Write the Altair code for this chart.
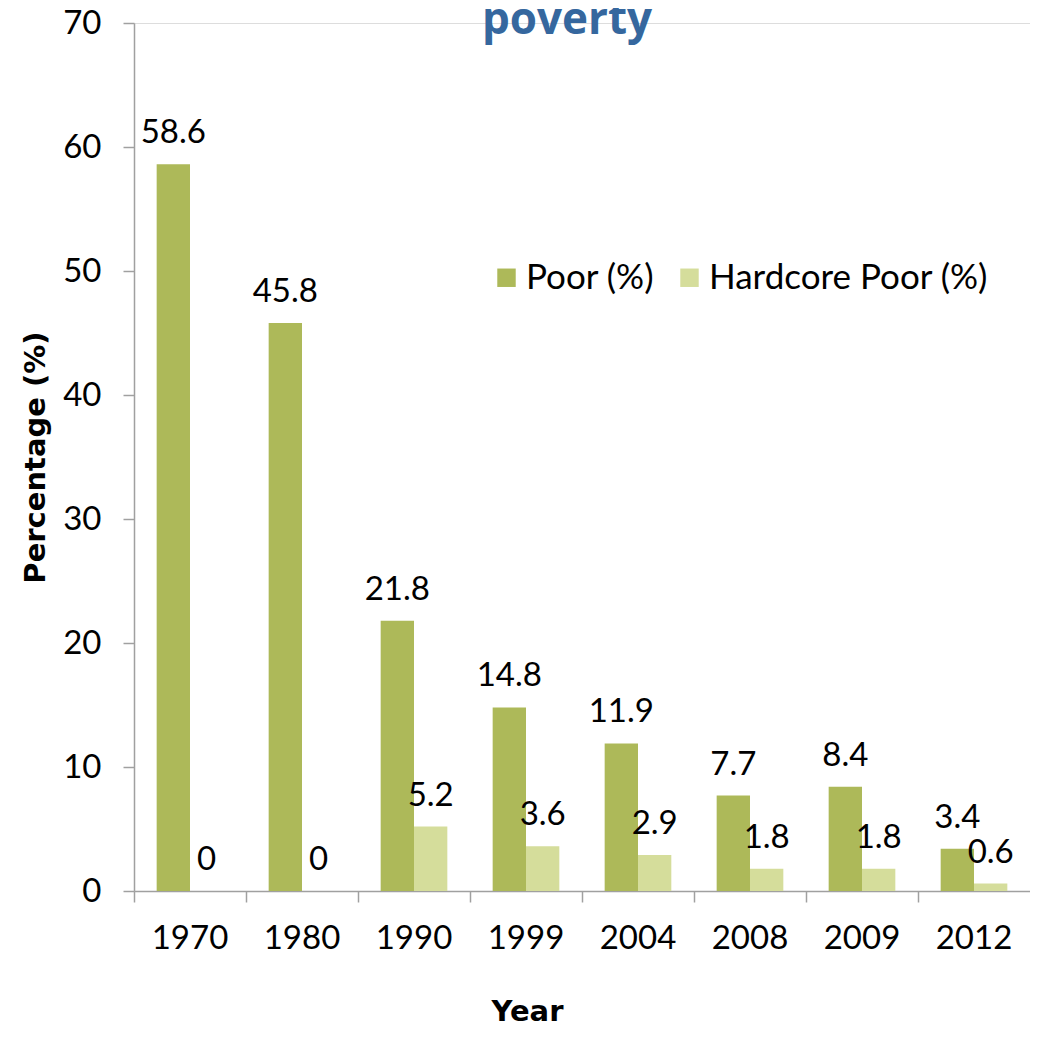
import altair as alt
import pandas as pd

years = ["1970", "1980", "1990", "1999", "2004", "2008", "2009", "2012"]
poor = [58.6, 45.8, 21.8, 14.8, 11.9, 7.7, 8.4, 3.4]
hardcore = [0, 0, 5.2, 3.6, 2.9, 1.8, 1.8, 0.6]
series = ["Poor (%)", "Hardcore Poor (%)"]
colors = ["#adb959", "#d5dd9b"]
y_ticks = [0, 10, 20, 30, 40, 50, 60, 70]

rows = []
for i, yr in enumerate(years):
    rows.append({"Year": yr, "Series": series[0], "Value": poor[i]})
    rows.append({"Year": yr, "Series": series[1], "Value": hardcore[i]})
df = pd.DataFrame(rows)

FONT = "Lato"
TFONT = "DejaVu Sans"
AX = "#a0a0a0"

base = alt.Chart(df).encode(
    x=alt.X(
        "Year:N",
        sort=years,
        scale=alt.Scale(paddingInner=0, paddingOuter=0),
        axis=alt.Axis(
            title="Year",
            titleFont=TFONT,
            titleFontSize=29,
            titleFontWeight="bold",
            titleColor="black",
            titlePadding=42,
            titleX=393,
            titleAlign="center",
            labelAngle=0,
            labelFont=FONT,
            labelFontSize=33,
            labelColor="black",
            labelPadding=20,
            tickSize=11,
            tickColor=AX,
            domainColor=AX,
            domainWidth=1.5,
            tickWidth=1.5,
            bandPosition=0,
            grid=False,
        ),
    ),
    xOffset=alt.XOffset(
        "Series:N",
        sort=series,
        scale=alt.Scale(domain=series, paddingInner=0, paddingOuter=0.68),
    ),
    y=alt.Y(
        "Value:Q",
        scale=alt.Scale(domain=[0, 70], nice=False),
        axis=alt.Axis(
            title="Percentage (%)",
            titleFont=TFONT,
            titleFontSize=29,
            titleFontWeight="bold",
            titleColor="black",
            titlePadding=12,
            values=y_ticks,
            labelFont=FONT,
            labelFontSize=33,
            labelColor="black",
            labelPadding=22,
            tickSize=11,
            tickColor=AX,
            domainColor=AX,
            domainWidth=1.5,
            tickWidth=1.5,
            grid=False,
        ),
    ),
)

bars = base.mark_bar().encode(
    color=alt.Color(
        "Series:N",
        sort=series,
        scale=alt.Scale(domain=series, range=colors),
        legend=alt.Legend(
            title=None,
            orient="none",
            legendX=355,
            legendY=237,
            direction="horizontal",
            symbolType="square",
            symbolSize=340,
            symbolStrokeWidth=0,
            labelFont=FONT,
            labelFontSize=35,
            labelColor="black",
            labelOffset=2,
            columnPadding=17,
            labelLimit=400,
        ),
    )
)

labels = base.mark_text(
    dy=-21, baseline="alphabetic", fontSize=33, font=FONT, color="black"
).encode(text=alt.Text("Value:Q", format="~g"))

chart = (
    alt.layer(bars, labels)
    .properties(
        width=896,
        height=868,
        autosize=alt.AutoSizeParams(type="none"),
        padding={"left": 126, "top": 15, "right": 0, "bottom": 137},
        title=alt.TitleParams(
            "poverty",
            font="Open Sans",
            fontSize=44,
            fontWeight="bold",
            color="#35679e",
            frame="group",
            anchor="middle",
            baseline="alphabetic",
            offset=0,
            dy=71,
            dx=-15,
        ),
    )
    .configure_view(stroke=None)
    .configure(background="white")
)

chart.save("out.html", embed_options={"renderer": "svg", "actions": False})
